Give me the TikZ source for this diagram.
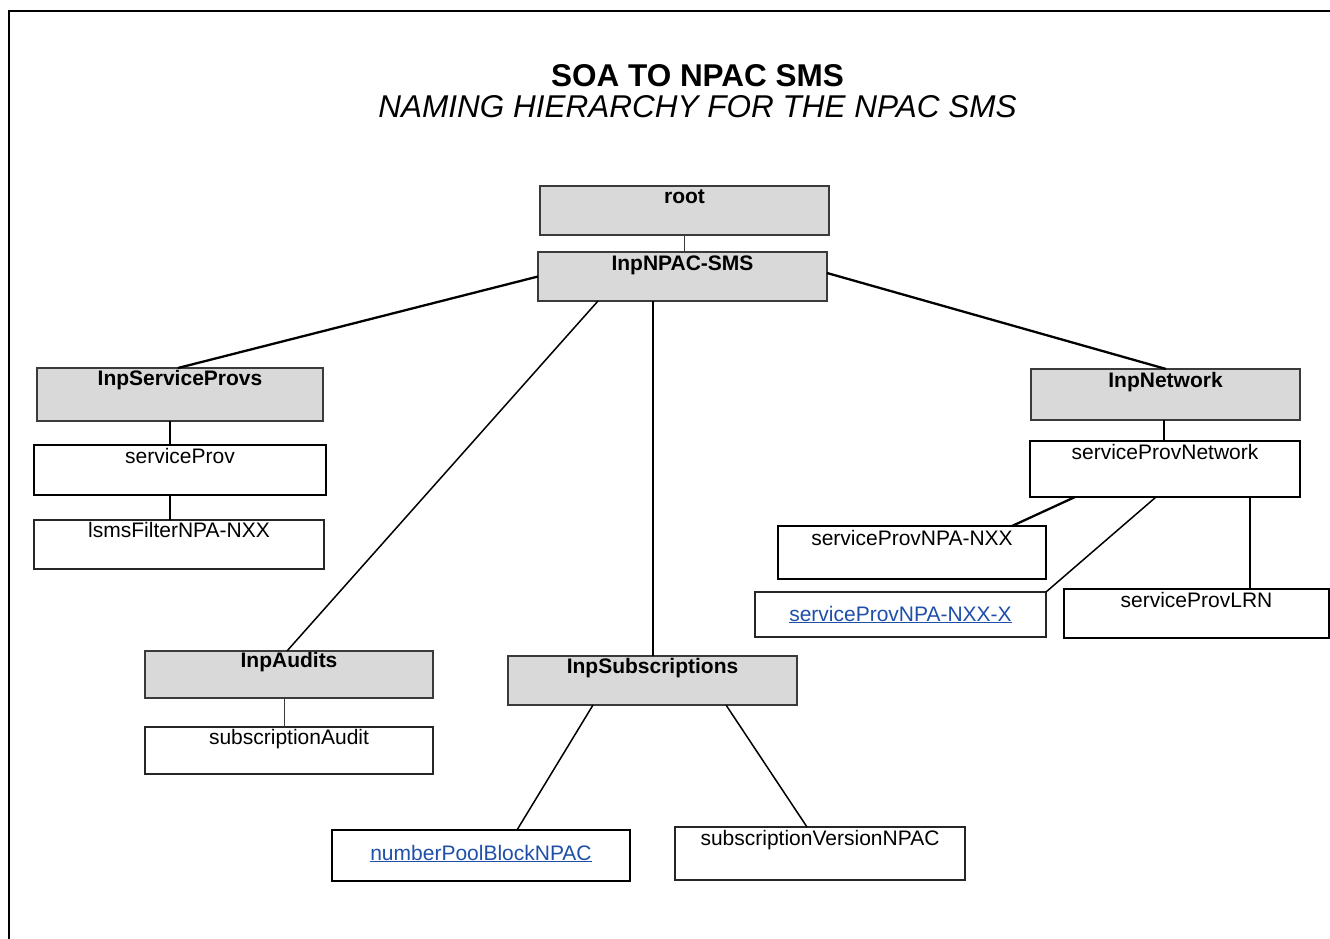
\documentclass[tikz,border=0pt]{standalone}
\usepackage{fontspec}
\setmainfont{Liberation Sans}
\usetikzlibrary{calc}
\definecolor{boxgray}{HTML}{D9D9D9}
\definecolor{edgegray}{HTML}{3A3A3A}
\definecolor{linkblue}{HTML}{1F4FA8}
\tikzset{
  base/.style={anchor=north west, outer sep=0pt, inner ysep=0pt, inner xsep=0pt,
    font=\fontsize{21}{25}\selectfont, align=center},
  gbox/.style={base, fill=boxgray, draw=edgegray, line width=1.2pt, font=\fontsize{21}{25}\selectfont\bfseries},
  gboxthick/.style={gbox, line width=2pt},
  wbox/.style={base, fill=white, draw=black!85, line width=1.2pt},
  wboxthick/.style={base, fill=white, draw=black, line width=2.5pt},
  conn/.style={draw=black, line width=1.5pt},
  connthick/.style={draw=black, line width=2.3pt},
  connthin/.style={draw=edgegray, line width=1pt},
}
\newcommand{\lnk}[1]{\textcolor{linkblue}{\underline{#1}}}
\begin{document}
\begin{tikzpicture}[x=1pt,y=-1pt]
\useasboundingbox (0,0) rectangle (1330,939);
% frame
\draw[line width=2.2pt] (1330,11) -- (9,11) -- (9,939);
% title
\node[font=\fontsize{31.5}{36}\selectfont\bfseries, anchor=base] (title) at (697.5,87) {SOA TO NPAC SMS};
\node[font=\fontsize{31.5}{36}\selectfont\itshape, anchor=base] (subtitle) at (697.5,118) {NAMING HIERARCHY FOR THE NPAC SMS};
% boxes
\node[gbox, minimum width=289, text height=17, text depth=32] (root) at (540,186) {root};
\node[gbox, minimum width=289, text height=18, text depth=31] (npac) at (538,252) {InpNPAC-SMS};
\node[gboxthick, minimum width=286, text height=17, text depth=36] (isp) at (37,368) {InpServiceProvs};
\node[wboxthick, minimum width=292, text height=18, text depth=32] (sp) at (34,445) {serviceProv};
\node[wbox, minimum width=290, text height=17, text depth=32] (lsms) at (34,520) {lsmsFilterNPA-NXX};
\node[gbox, minimum width=288, text height=16, text depth=31] (aud) at (145,651) {InpAudits};
\node[wbox, minimum width=288, text height=17, text depth=30] (saud) at (145,727) {subscriptionAudit};
\node[gbox, minimum width=289, text height=17, text depth=32] (subs) at (508,656) {InpSubscriptions};
\node[wboxthick, minimum width=298, text height=30, text depth=21] (npb) at (332,830) {\lnk{numberPoolBlockNPAC}};
\node[wbox, minimum width=290, text height=18, text depth=35] (svn) at (675,827) {subscriptionVersionNPAC};
\node[gboxthick, minimum width=269, text height=18, text depth=33] (net) at (1031,369) {InpNetwork};
\node[wboxthick, minimum width=270, text height=18, text depth=38] (spn) at (1030,441) {serviceProvNetwork};
\node[wboxthick, minimum width=268, text height=19, text depth=34] (nxx) at (778,526) {serviceProvNPA-NXX};
\node[wbox, line width=1.5pt, minimum width=291, text height=29, text depth=16] (nxxx) at (755,592) {\lnk{serviceProvNPA-NXX-X}};
\node[wboxthick, minimum width=265, text height=18, text depth=31] (lrn) at (1064,589) {serviceProvLRN};
% connectors
\draw[connthin] ([xshift=144]root.south west) -- ([xshift=146]npac.north west);
\draw[connthick] (npac.west) -- ([xshift=141]isp.north west);
\draw[connthick] ([yshift=-21]npac.north east) -- ([xshift=135]net.north west);
\draw[conn] ([xshift=60]npac.south west) -- ([xshift=142]aud.north west);
\draw[conn, line width=1.7pt] ([xshift=115]npac.south west) -- ([xshift=145]subs.north west);
\draw[connthick] ([xshift=133]isp.south west) -- ([xshift=136]sp.north west);
\draw[connthick] ([xshift=136]sp.south west) -- ([xshift=136]lsms.north west);
\draw[connthin] ([xshift=139]aud.south west) -- ([xshift=139]saud.north west);
\draw[conn] ([xshift=85]subs.south west) -- ([xshift=185]npb.north west);
\draw[conn] ([xshift=218]subs.south west) -- ([xshift=132]svn.north west);
\draw[connthick] ([xshift=133]net.south west) -- ([xshift=134]spn.north west);
\draw[connthick] ([xshift=45]spn.south west) -- ([xshift=234]nxx.north west);
\draw[conn] ([xshift=126]spn.south west) -- (nxxx.north east);
\draw[connthick] ([xshift=220]spn.south west) -- ([xshift=186]lrn.north west);
\end{tikzpicture}
\end{document}
